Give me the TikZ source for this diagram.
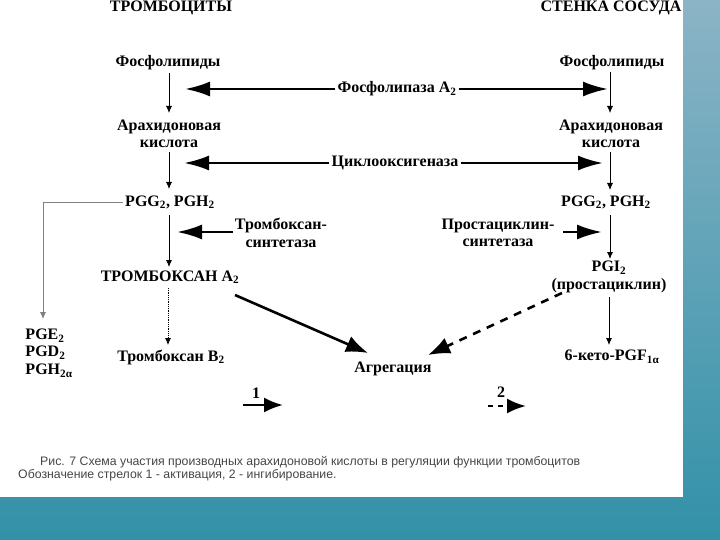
\documentclass[tikz,border=0pt]{standalone}
\usepackage{fontspec}
\setmainfont{Liberation Serif}
\newfontfamily\capfont{Liberation Sans}
\usetikzlibrary{arrows.meta}
\definecolor{seatop}{RGB}{140,180,198}
\definecolor{seabot}{RGB}{50,145,168}
\definecolor{capgray}{RGB}{70,70,70}
\begin{document}
\begin{tikzpicture}[x=1pt, y=-1pt,
  lbl/.style={font=\fontsize{16}{17.5}\selectfont\bfseries, align=center, inner sep=2pt},
  thinarr/.style={-{Latex[length=7pt,width=6pt]}, line width=0.8pt},
  enzarr/.style={-{Latex[length=25pt,width=15pt]}, line width=2.6pt},
  aggarr/.style={-{Latex[length=22pt,width=17pt]}, line width=2.6pt},
  legarr/.style={-{Latex[length=19pt,width=15pt]}, line width=2.4pt},
  capt/.style={font=\capfont\fontsize{12.3}{14}\selectfont, text=capgray, anchor=west, inner sep=0pt}]
\useasboundingbox (0,0) rectangle (720,540);
\shade[top color=seatop, bottom color=seabot] (0,0) rectangle (720,540);
\fill[white] (0,0) rectangle (683,497);
% column headers
\node[lbl] (thr) at (171,8) {ТРОМБОЦИТЫ};
\node[lbl] (wall) at (611,8) {СТЕНКА СОСУДА};
% platelet column
\node[lbl] (pl) at (168,63) {Фосфолипиды};
\node[lbl] (al) at (169,134) {Арахидоновая\\кислота};
\node[lbl] (gl) at (170,202) {PGG\textsubscript{2}, PGH\textsubscript{2}};
\node[lbl] (txa) at (170,277) {ТРОМБОКСАН A\textsubscript{2}};
\node[lbl] (txb) at (171,357) {Тромбоксан B\textsubscript{2}};
\node[lbl, align=left] (pge) at (49,353) {PGE\textsubscript{2}\\PGD\textsubscript{2}\\PGH\textsubscript{2α}};
% vessel wall column
\node[lbl] (pr) at (612,63) {Фосфолипиды};
\node[lbl] (ar) at (611,134) {Арахидоновая\\кислота};
\node[lbl] (gr) at (606,202) {PGG\textsubscript{2}, PGH\textsubscript{2}};
\node[lbl] (pgi) at (609,277) {PGI\textsubscript{2}\\(простациклин)};
\node[lbl] (keto) at (612,357) {6-кето-PGF\textsubscript{1α}};
% enzymes and result
\node[lbl] (pla2) at (397,89) {Фосфолипаза A\textsubscript{2}};
\node[lbl] (cox) at (395,163) {Циклооксигеназа};
\node[lbl] (txs) at (281,233) {Тромбоксан-\\синтетаза};
\node[lbl] (pcs) at (498,233) {Простациклин-\\синтетаза};
\node[lbl] (agg) at (393,369) {Агрегация};
% legend
\node[lbl] (one) at (256,393) {1};
\node[lbl] (two) at (501,392) {2};
\coordinate (oneA) at (243,405);
\coordinate (oneB) at (283,405);
\coordinate (twoA) at (488,406);
\coordinate (twoB) at (526,406);
% arrow ends
\coordinate (plaL) at (185,89);
\coordinate (plaR) at (608,89);
\coordinate (coxL) at (184,163);
\coordinate (coxR) at (603,163);
\coordinate (txsL) at (177,232);
\coordinate (pcsR) at (602,232);
\coordinate (brn) at (43,202);
% main chains
\draw[thinarr] (169,73) -- (169,113);
\draw[thinarr] (169,152) -- (169,189);
\draw[thinarr] (169,215) -- (169,267);
\draw[thinarr, densely dotted] (168,288) -- (168,345);
\draw[thinarr] (610,72) -- (610,113);
\draw[thinarr] (610,152) -- (610,190);
\draw[thinarr] (610,215) -- (610,259);
\draw[thinarr] (609,297) -- (609,345);
\draw[thinarr, gray] (gl.west) -- (brn) -- (brn |- 0,319);
% enzyme arrows
\draw[enzarr] (pla2.west) -- (plaL);
\draw[enzarr] (pla2.east) -- (plaR);
\draw[enzarr] (cox.west) -- (coxL);
\draw[enzarr] (cox.east) -- (coxR);
\draw[enzarr] (txs.west |- txsL) -- (txsL);
\draw[enzarr] (563,232) -- (pcsR);
% aggregation
\draw[aggarr] (235,295) -- (368,353);
\draw[aggarr, dash pattern=on 8pt off 7pt] (562,293) -- (428,355);
\draw[legarr] (oneA) -- (oneB);
\draw[legarr, dash pattern=on 5pt off 5pt] (twoA) -- (twoB);
% caption
\node[capt] (cap1) at (40,462) {Рис. 7  Схема участия производных арахидоновой кислоты в регуляции функции тромбоцитов};
\node[capt] (cap2) at (18,475) {Обозначение стрелок  1 - активация, 2 - ингибирование.};
\end{tikzpicture}
\end{document}
